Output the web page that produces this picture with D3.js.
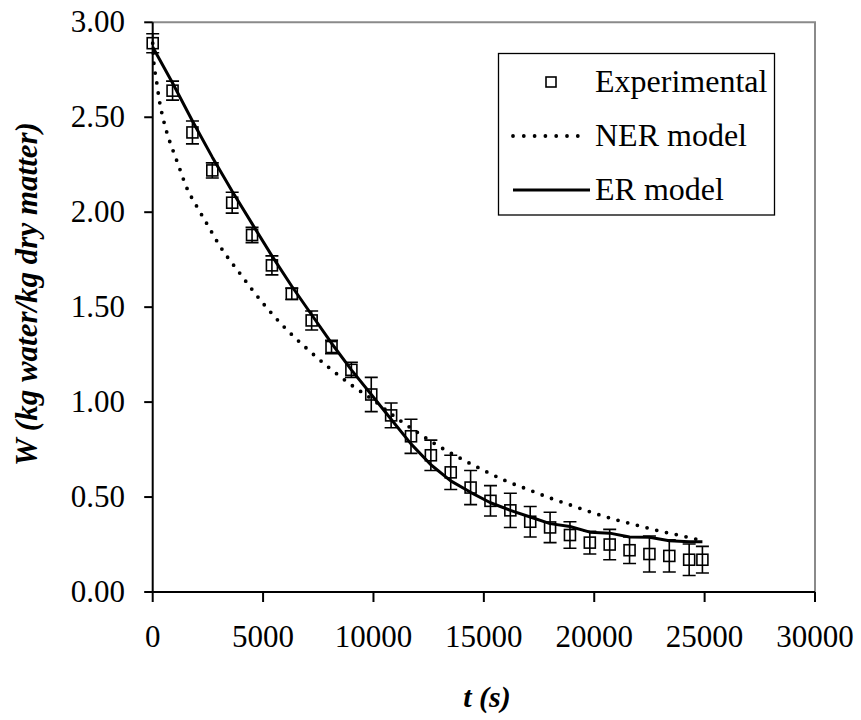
<!DOCTYPE html>
<html>
<head>
<meta charset="utf-8">
<script src="https://cdn.jsdelivr.net/npm/d3@7"></script>
</head>
<body style="margin:0">
<svg id="chart" width="861" height="720"></svg>
<script>
// Experimental drying data
const expTime = [0, 900, 1800, 2700, 3600, 4500, 5400, 6300, 7200, 8100, 9000, 9900, 10800, 11700,
  12600, 13500, 14400, 15300, 16200, 17100, 18000, 18900, 19800, 20700, 21600, 22500, 23400, 24300, 24900];
const expW = [2.89, 2.64, 2.42, 2.22, 2.05, 1.88, 1.72, 1.57, 1.43, 1.29, 1.17, 1.04, 0.93, 0.82,
  0.72, 0.63, 0.55, 0.48, 0.43, 0.37, 0.34, 0.30, 0.26, 0.25, 0.22, 0.20, 0.19, 0.17, 0.17];
const expErr = [0.05, 0.05, 0.06, 0.04, 0.055, 0.04, 0.05, 0.03, 0.05, 0.035, 0.04, 0.09, 0.065, 0.09,
  0.08, 0.09, 0.09, 0.08, 0.09, 0.08, 0.08, 0.07, 0.06, 0.08, 0.07, 0.095, 0.085, 0.083, 0.07];

// NER model curve
const nerTime = [0, 50, 150, 300, 500, 750, 1000, 1250, 1500, 2000, 2500, 3000, 4000, 5000, 6000, 7000,
  8000, 9000, 10000, 11000, 12000, 13000, 14000, 15000, 16000, 17000, 18000, 19000, 20000, 21000,
  22000, 23000, 24000, 24900];
const nerW = [2.89, 2.79, 2.71, 2.59, 2.48, 2.38, 2.30, 2.22, 2.14, 2.03, 1.93, 1.83, 1.67, 1.52, 1.39, 1.28,
  1.18, 1.09, 1.01, 0.92, 0.84, 0.765, 0.70, 0.64, 0.585, 0.54, 0.495, 0.455, 0.415, 0.38,
  0.35, 0.32, 0.295, 0.27];

// ER model curve
const erTime = [0, 900, 1800, 2700, 3600, 4500, 5400, 6300, 7200, 8100, 9000, 9900, 10800, 11700,
  12600, 13500, 14400, 15300, 16200, 17100, 18000, 18900, 19800, 20700, 21600, 22500, 23400, 24300, 24900];
const erW = [2.87, 2.68, 2.48, 2.29, 2.11, 1.94, 1.77, 1.61, 1.46, 1.31, 1.17, 1.04, 0.91, 0.78,
  0.67, 0.585, 0.525, 0.47, 0.43, 0.395, 0.36, 0.345, 0.315, 0.31, 0.29, 0.288, 0.27, 0.265, 0.265];

const xTicks = [0, 5000, 10000, 15000, 20000, 25000, 30000];
const yTicks = [0, 0.5, 1, 1.5, 2, 2.5, 3];
const legendLabels = ['Experimental', 'NER model', 'ER model'];

const svg = d3.select('#chart');
const plotL = 152.7, plotR = 815, plotT = 22.3, plotB = 592;

const x = d3.scaleLinear().domain([0, 30000]).range([plotL, plotR]);
const y = d3.scaleLinear().domain([0, 3]).range([plotB, plotT]);

// top and right frame (grey)
svg.append('path')
  .attr('d', `M${plotL},${plotT}H${plotR}V${plotB}`)
  .attr('fill', 'none').attr('stroke', '#8a8a8a').attr('stroke-width', 2);

// axis lines and ticks
svg.append('path')
  .attr('d', `M${plotL},${plotT}V${plotB}H${plotR}`)
  .attr('fill', 'none').attr('stroke', '#000').attr('stroke-width', 2);
svg.selectAll('line.xtick').data(xTicks).enter().append('line')
  .attr('x1', d => x(d)).attr('x2', d => x(d)).attr('y1', plotB).attr('y2', plotB + 10)
  .attr('stroke', '#000').attr('stroke-width', 2);
svg.selectAll('line.ytick').data(yTicks).enter().append('line')
  .attr('x1', plotL - 8.5).attr('x2', plotL).attr('y1', d => y(d)).attr('y2', d => y(d))
  .attr('stroke', '#000').attr('stroke-width', 2);

svg.selectAll('text.xt').data(xTicks).enter().append('text')
  .attr('class', 'xt')
  .attr('x', d => x(d)).attr('y', 647)
  .attr('text-anchor', 'middle')
  .attr('font-size', 31)
  .style('font-family', "'Liberation Serif'")
  .text(d => d);

svg.selectAll('text.yt').data(yTicks).enter().append('text')
  .attr('class', 'yt')
  .attr('x', 125).attr('y', d => y(d) + 10)
  .attr('text-anchor', 'end')
  .attr('font-size', 31)
  .style('font-family', "'Liberation Serif'")
  .text(d => d.toFixed(2));

// axis titles
svg.append('text')
  .attr('x', 487).attr('y', 707)
  .attr('text-anchor', 'middle')
  .attr('font-size', 30)
  .attr('font-weight', 'bold').attr('font-style', 'italic')
  .style('font-family', "'Liberation Serif'")
  .text('t (s)');

svg.append('text')
  .attr('transform', 'translate(37,294) rotate(-90)')
  .attr('text-anchor', 'middle')
  .attr('font-size', 31)
  .attr('font-weight', 'bold').attr('font-style', 'italic')
  .style('font-family', "'Liberation Serif'")
  .text('W (kg water/kg dry matter)');

// NER model (dotted)
svg.append('path')
  .datum(d3.zip(nerTime, nerW))
  .attr('d', d3.line().x(d => x(d[0])).y(d => y(d[1])).curve(d3.curveMonotoneX))
  .attr('fill', 'none').attr('stroke', '#000').attr('stroke-width', 3.8)
  .attr('stroke-linecap', 'round').attr('stroke-dasharray', '0,10');

// ER model (solid)
svg.append('path')
  .datum(d3.zip(erTime, erW))
  .attr('d', d3.line().x(d => x(d[0])).y(d => y(d[1])))
  .attr('fill', 'none').attr('stroke', '#000').attr('stroke-width', 3)
  .attr('stroke-linejoin', 'round');

// experimental points with error bars
const expData = d3.zip(expTime, expW, expErr);
const pts = svg.append('g').selectAll('g').data(expData).enter().append('g');
pts.append('path')
  .attr('d', d => {
    const cx = x(d[0]), y1 = y(d[1] + d[2]), y2 = y(d[1] - d[2]);
    return `M${cx - 6.5},${y1}H${cx + 6.5}M${cx},${y1}V${y2}M${cx - 6.5},${y2}H${cx + 6.5}`;
  })
  .attr('fill', 'none').attr('stroke', '#000').attr('stroke-width', 1.6);
pts.append('rect')
  .attr('x', d => x(d[0]) - 5.5).attr('y', d => y(d[1]) - 5.5)
  .attr('width', 11).attr('height', 11)
  .attr('fill', 'none').attr('stroke', '#000').attr('stroke-width', 1.6);

// legend
svg.append('rect').attr('x', 498.5).attr('y', 53.5).attr('width', 276).attr('height', 161.5)
  .attr('fill', '#fff').attr('stroke', '#000').attr('stroke-width', 1.3);
svg.append('rect').attr('x', 546).attr('y', 77).attr('width', 10).attr('height', 10)
  .attr('fill', 'none').attr('stroke', '#000').attr('stroke-width', 1.6);
svg.append('path').attr('d', 'M513,136H580')
  .attr('fill', 'none').attr('stroke', '#000').attr('stroke-width', 3.8)
  .attr('stroke-linecap', 'round').attr('stroke-dasharray', '0,10.8');
svg.append('path').attr('d', 'M513,190H590')
  .attr('fill', 'none').attr('stroke', '#000').attr('stroke-width', 3);
svg.selectAll('text.lab').data(legendLabels).enter().append('text')
  .attr('class', 'lab')
  .attr('x', 595).attr('y', (d, i) => 92 + i * 54)
  .attr('font-size', 32)
  .style('font-family', "'Liberation Serif'")
  .text(d => d);
</script>
</body>
</html>
